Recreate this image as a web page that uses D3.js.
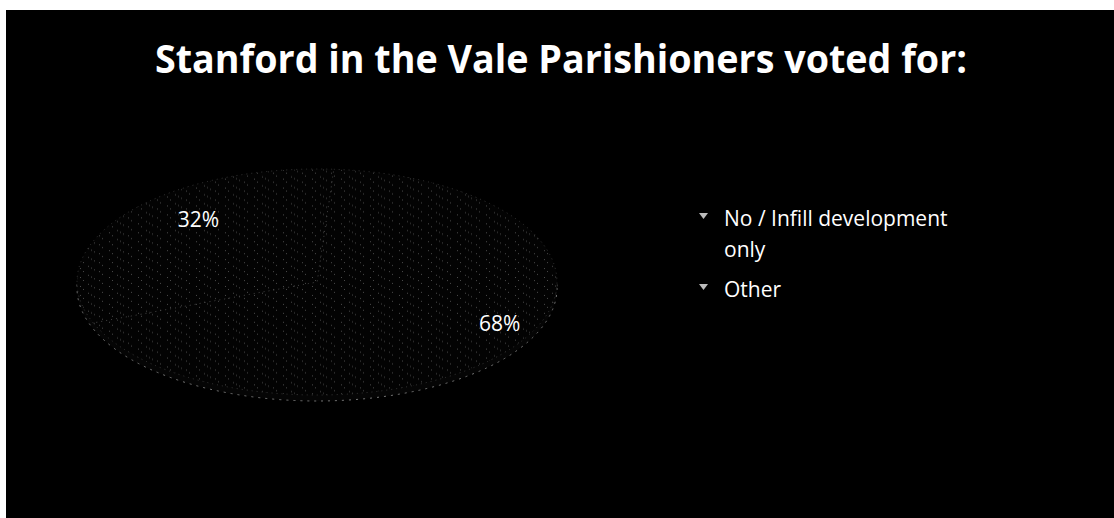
<!DOCTYPE html>
<html lang="en">

<head>
	<meta charset="UTF-8">
	<title>Stanford in the Vale Parishioners voted for:</title>
	<script src="https://d3js.org/d3.v7.min.js"></script>
	<style>
		body {
			margin: 0;
			background: #fff;
		}

		svg text {
			font-family: "Open Sans", "Noto Sans", sans-serif;
			fill: #fff;
		}
	</style>
</head>

<body>
	<div id="chart"></div>
	<script>
		// chart data
		const categories = ["No / Infill development only", "Other"];
		const values = [68, 32];
		const labels = ["68%", "32%"];
		const legendLines = [["No / Infill development", "only"], ["Other"]];
		const title = "Stanford in the Vale Parishioners voted for:";

		const width = 1114, height = 518;

		const svg = d3.select("#chart")
			.append("svg")
			.attr("width", width)
			.attr("height", height);

		// scanned slide: black panel with a thin white margin top/left
		svg.append("rect")
			.attr("x", 6)
			.attr("y", 10)
			.attr("width", width - 6)
			.attr("height", height - 10)
			.attr("fill", "#000");

		// speckle pattern to mimic the scanned, almost invisible pie fill
		const defs = svg.append("defs");
		const pat = defs.append("pattern")
			.attr("id", "speckle")
			.attr("patternUnits", "userSpaceOnUse")
			.attr("width", 29)
			.attr("height", 19);
		pat.append("rect").attr("width", 29).attr("height", 19).attr("fill", "#030303");
		[[3, 4], [17, 2], [9, 12], [24, 9], [14, 16], [27, 15], [6, 8]].forEach(p => {
			pat.append("rect")
				.attr("x", p[0]).attr("y", p[1])
				.attr("width", 1).attr("height", 1)
				.attr("fill", "#9a9a9a");
		});

		svg.append("text")
			.attr("x", 561)
			.attr("y", 73)
			.attr("text-anchor", "middle")
			.attr("font-size", 40)
			.attr("font-weight", "bold")
			.attr("textLength", 812)
			.attr("lengthAdjust", "spacingAndGlyphs")
			.text(title);

		// pie, flattened to look like the tilted 3D pie
		const cx = 317, cy = 282, rx = 240, ry = 113, depth = 6;

		const pie = d3.pie().sort(null).startAngle(0.07).endAngle(0.07 + 2 * Math.PI);
		const arcs = pie(values);
		const arc = d3.arc().innerRadius(0).outerRadius(rx);
		const labelArc = d3.arc().innerRadius(rx * 0.78).outerRadius(rx * 0.78);

		const pieG = svg.append("g")
			.attr("transform", `translate(${cx},${cy}) scale(1,${ry / rx})`);

		// side (thickness)
		pieG.append("ellipse")
			.attr("cx", 0)
			.attr("cy", depth * rx / ry)
			.attr("rx", rx)
			.attr("ry", rx)
			.attr("fill", "#050505")
			.attr("stroke", "#777")
			.attr("stroke-width", 1)
			.attr("stroke-dasharray", "2 5")
			.attr("vector-effect", "non-scaling-stroke");

		pieG.selectAll("path")
			.data(arcs)
			.enter()
			.append("path")
			.attr("d", arc)
			.attr("fill", "url(#speckle)")
			.attr("stroke", "#555")
			.attr("stroke-width", 0.6)
			.attr("stroke-dasharray", "1 4")
			.attr("vector-effect", "non-scaling-stroke");

		// data labels, nudged the way the perspective view places them
		svg.selectAll(".pct")
			.data(arcs)
			.enter()
			.append("text")
			.attr("class", "pct")
			.attr("x", d => cx + labelArc.centroid(d)[0] + 32)
			.attr("y", d => cy + labelArc.centroid(d)[1] * ry / rx - 3)
			.attr("text-anchor", "middle")
			.attr("font-size", 21)
			.text((d, i) => labels[i]);

		// legend
		const legendY = d3.scalePoint().domain(categories).range([226, 297]);
		const legend = svg.selectAll(".legend")
			.data(categories)
			.enter()
			.append("g")
			.attr("class", "legend")
			.attr("transform", d => `translate(0,${legendY(d)})`);

		legend.append("path")
			.attr("d", "M699,-13 L708,-13 L703.5,-7 Z")
			.attr("fill", "#bbb");

		legend.append("text")
			.attr("x", 724)
			.attr("font-size", 21)
			.selectAll("tspan")
			.data((d, i) => legendLines[i])
			.enter()
			.append("tspan")
			.attr("x", 724)
			.attr("dy", (d, j) => j === 0 ? 0 : 31)
			.text(d => d);
	</script>
</body>

</html>
